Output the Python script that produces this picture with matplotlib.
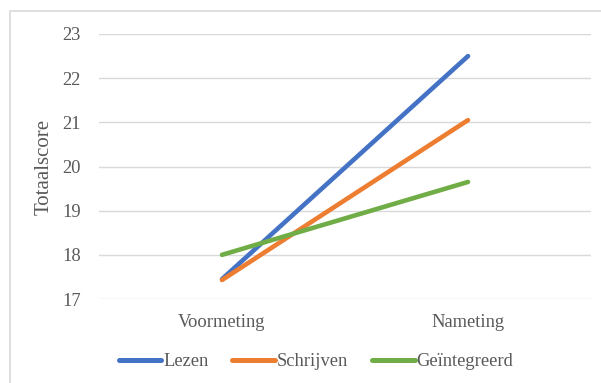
import matplotlib
matplotlib.use("Agg")
import matplotlib.pyplot as plt
from matplotlib.patches import Rectangle

categories = ["Voormeting", "Nameting"]
series_names = ["Lezen", "Schrijven", "Geïntegreerd"]
lezen = [17.45, 22.5]
schrijven = [17.43, 21.05]
geintegreerd = [18.0, 19.65]
yticks = [17, 18, 19, 20, 21, 22, 23]

colors = ["#4472C4", "#ED7D31", "#70AD47"]
text_color = "#595959"
grid_color = "#D9D9D9"

plt.rcParams["font.family"] = ["Liberation Serif", "DejaVu Serif"]

W, H = 601, 383
fig = plt.figure(figsize=(W / 100, H / 100), dpi=100)

# outer chart frame
fig.patches.append(Rectangle((10 / W, -0.1), 1.2, 1 - 11 / H + 0.1,
                             transform=fig.transFigure, fill=False,
                             edgecolor=grid_color, linewidth=1.2))

ax = fig.add_axes([99 / W, 1 - 299 / H, (591 - 99) / W, (299 - 34) / H])
x = [0, 1]
for vals, name, c in zip([lezen, schrijven, geintegreerd], series_names, colors):
    ax.plot(x, vals, color=c, linewidth=3.3, solid_capstyle="round", label=name)

ax.set_xlim(-0.5, 1.5)
ax.set_ylim(17, 23)
ax.set_yticks(yticks)
ax.set_xticks(x)
ax.set_xticklabels(categories)
ax.grid(axis="y", color=grid_color, linewidth=1)
ax.set_axisbelow(True)
for s in ax.spines.values():
    s.set_visible(False)
ax.tick_params(length=0, labelsize=13.3, colors=text_color)
ax.tick_params(axis="x", pad=11)
ax.tick_params(axis="y", pad=13)
ax.set_ylabel("Totaalscore", fontsize=15, color=text_color, labelpad=6)

leg = ax.legend(loc="center", bbox_to_anchor=(316 / W, 1 - 362 / H),
                bbox_transform=fig.transFigure, ncol=3, frameon=False,
                fontsize=13.3, handlelength=2.3, handletextpad=0.1,
                columnspacing=1.3, labelcolor=text_color)
for h in leg.legend_handles:
    h.set_linewidth(3.6)

fig.savefig("out.png", dpi=100)
